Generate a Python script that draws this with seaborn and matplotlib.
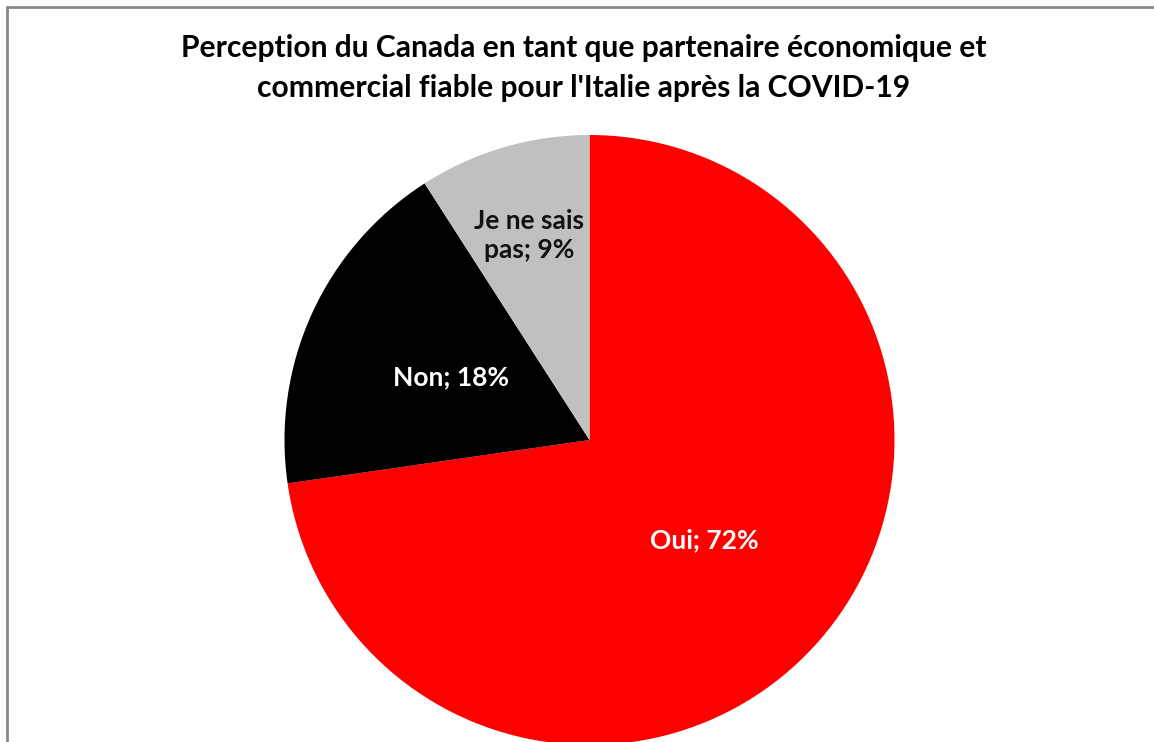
import numpy as np
import matplotlib
matplotlib.use("Agg")
import matplotlib.pyplot as plt
from matplotlib.patches import Rectangle
import seaborn as sns

# donnees
categories = ["Oui", "Non", "Je ne sais\npas"]
valeurs = [72, 18, 9]
couleurs = ["#FF0000", "#000000", "#C0C0C0"]
couleurs_texte = ["white", "white", "#111111"]
titre = ("Perception du Canada en tant que partenaire économique et\n"
         "commercial fiable pour l'Italie après la COVID-19")

sns.set_style("white")
plt.rcParams['font.family'] = ['Lato', 'DejaVu Sans']

W, H = 1154, 742
fig = plt.figure(figsize=(W / 100, H / 100), dpi=100)

# centre et rayon du camembert en pixels
cx, cy, r = 589.5, 440, 305
ax = fig.add_axes([(cx - r) / W, 1 - (cy + r) / H, 2 * r / W, 2 * r / H])

wedges, _ = ax.pie(valeurs, colors=couleurs, startangle=90, counterclock=False,
                   radius=1, labels=None, wedgeprops=dict(linewidth=0))
ax.set_xlim(-1, 1)
ax.set_ylim(-1, 1)
ax.axis("off")

# etiquettes placees au milieu de chaque part
distances = [0.5, 0.5, 0.7]
for w, cat, v, col, d in zip(wedges, categories, valeurs, couleurs_texte, distances):
    ang = np.deg2rad((w.theta1 + w.theta2) / 2)
    ax.text(d * np.cos(ang), d * np.sin(ang), f"{cat}; {v}%", ha="center", va="center",
            color=col, fontsize=19, fontweight="bold", linespacing=1.25)

fig.text(584 / W, 1 - 34 / H, titre, ha="center", va="top", fontsize=21.6,
         fontweight="bold", color="black", linespacing=1.5)

# cadre gris du graphique
fig.patches.append(Rectangle((7 / W, -0.1), 1.2, 1.1 - 6.5 / H, transform=fig.transFigure,
                             fill=False, edgecolor="#888888", linewidth=2))

fig.savefig("out.png", dpi=100)
